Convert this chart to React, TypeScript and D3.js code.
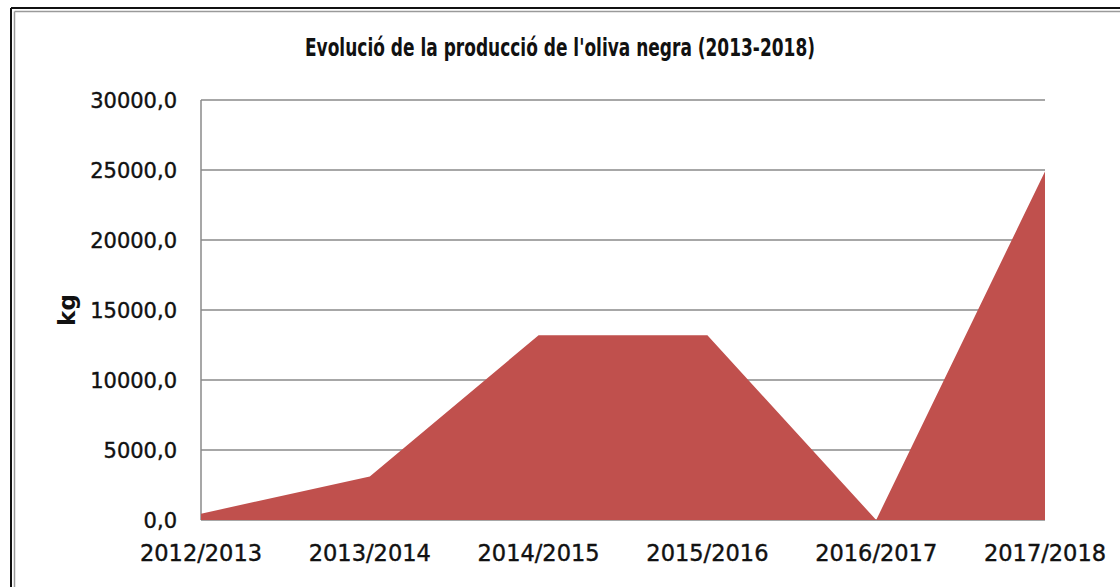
import React from "react";
import * as d3 from "d3";

const categories = ["2012/2013", "2013/2014", "2014/2015", "2015/2016", "2016/2017", "2017/2018"];
const production = [450, 3100, 13200, 13200, 0, 24900];
const yTicks = [0, 5000, 10000, 15000, 20000, 25000, 30000];
const titleText = "Evolució de la producció de l'oliva negra (2013-2018)";
const yAxisTitle = "kg";

const W = 1120;
const H = 587;
const plot = { left: 201, right: 1045, top: 100, bottom: 520 };

export default function App() {
  const x = d3.scalePoint<string>().domain(categories).range([plot.left, plot.right]);
  const y = d3.scaleLinear().domain([0, 30000]).range([plot.bottom, plot.top]);
  const data = categories.map((c, i) => ({ c, v: production[i] }));
  const area = d3
    .area<{ c: string; v: number }>()
    .x((d) => x(d.c) as number)
    .y0(y(0))
    .y1((d) => y(d.v));
  const fmt = (v: number) => v.toFixed(1).replace(".", ",");
  const font = "'DejaVu Sans', sans-serif";

  return (
    <svg
      width={W}
      height={H}
      style={{ position: "absolute", left: 0, top: 0, background: "#fff" }}
    >
      <rect x={0} y={0} width={W} height={H} fill="#fff" />
      {/* frame */}
      <line x1={11} y1={8} x2={W} y2={8} stroke="#111" strokeWidth={2} />
      <line x1={11} y1={8} x2={11} y2={H} stroke="#111" strokeWidth={2} />
      <line x1={14.5} y1={11.5} x2={W} y2={11.5} stroke="#9a9a9a" strokeWidth={1.5} />
      <line x1={14.5} y1={11.5} x2={14.5} y2={H} stroke="#9a9a9a" strokeWidth={1.5} />

      <text
        x={W / 2}
        y={56}
        textAnchor="middle"
        fontFamily={font}
        fontWeight="bold"
        fontSize={25}
        textLength={510}
        lengthAdjust="spacingAndGlyphs"
        fill="#111"
      >
        {titleText}
      </text>

      {/* gridlines */}
      {yTicks.map((t) => (
        <line
          key={"g" + t}
          x1={plot.left}
          x2={plot.right}
          y1={y(t)}
          y2={y(t)}
          stroke="#8a8a8a"
          strokeWidth={1.5}
        />
      ))}
      <line x1={plot.left} x2={plot.left} y1={plot.top} y2={plot.bottom} stroke="#8a8a8a" strokeWidth={1.5} />

      <path d={area(data) || ""} fill="#C0504D" />

      {/* y tick labels */}
      {yTicks.map((t) => (
        <text
          key={"t" + t}
          x={177}
          y={y(t)}
          dy="0.36em"
          textAnchor="end"
          fontFamily={font}
          fontSize={21}
          fill="#111"
          stroke="#111"
          strokeWidth={0.4}
        >
          {fmt(t)}
        </text>
      ))}

      {/* x labels */}
      {categories.map((c) => (
        <text
          key={"x" + c}
          x={x(c) as number}
          y={561}
          textAnchor="middle"
          fontFamily={font}
          fontSize={22.5}
          fill="#111"
          stroke="#111"
          strokeWidth={0.4}
        >
          {c}
        </text>
      ))}

      <text
        transform={`translate(75, 310) rotate(-90)`}
        textAnchor="middle"
        fontFamily={font}
        fontWeight="bold"
        fontSize={23}
        fill="#111"
      >
        {yAxisTitle}
      </text>
    </svg>
  );
}
